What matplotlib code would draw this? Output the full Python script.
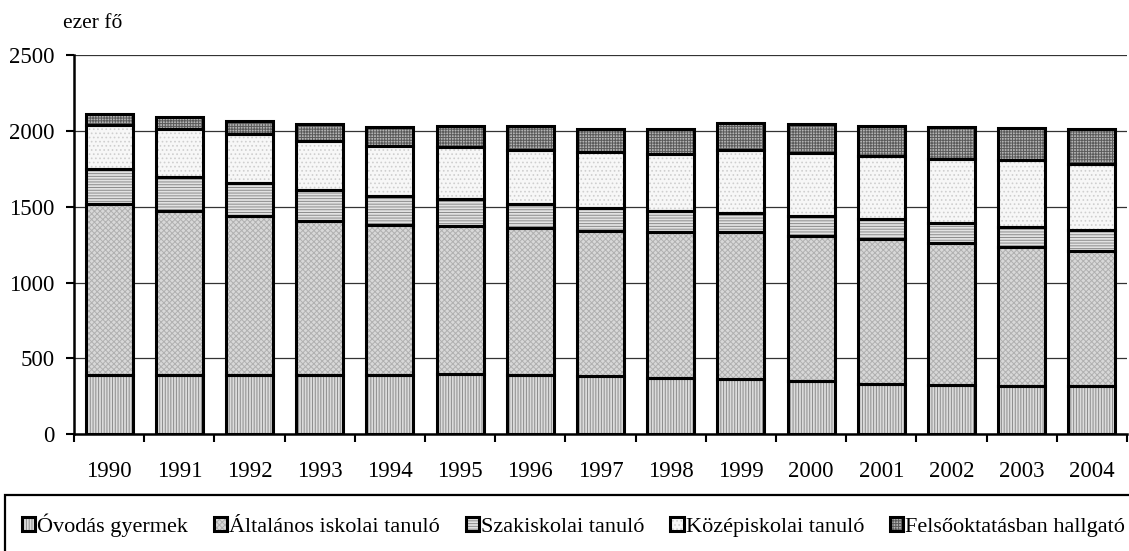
import numpy as np
import matplotlib.pyplot as plt
from matplotlib.patches import Rectangle
from matplotlib.legend_handler import HandlerTuple

plt.rcParams['font.family'] = ['Liberation Serif', 'DejaVu Serif']
plt.rcParams['font.size'] = 16.5
plt.rcParams['hatch.linewidth'] = 0.7

years = ['1990', '1991', '1992', '1993', '1994', '1995', '1996', '1997',
         '1998', '1999', '2000', '2001', '2002', '2003', '2004']

# thousand persons
ovoda = [390, 392, 394, 394, 390, 396, 390, 381, 370, 363, 348, 334, 326, 321, 321]
altalanos = [1130, 1082, 1042, 1013, 989, 976, 969, 960, 965, 972, 962, 950, 932, 915, 890]
szakiskola = [226, 224, 218, 203, 189, 176, 161, 150, 134, 125, 128, 137, 136, 132, 137]
kozepiskola = [291, 311, 324, 326, 335, 346, 357, 370, 377, 412, 414, 413, 423, 438, 436]
felsooktatas = [77, 83, 88, 108, 121, 139, 152, 154, 165, 183, 190, 201, 207, 214, 227]

series = [ovoda, altalanos, szakiskola, kozepiskola, felsooktatas]
labels = ['Óvodás gyermek', 'Általános iskolai tanuló', 'Szakiskolai tanuló',
          'Középiskolai tanuló', 'Felsőoktatásban hallgató']
# (fill, hatch colour, hatch)
styles = [('#dcdcdc', '#8c8c8c', '||||||'),
          ('#d8d8d8', '#b0b0b0', 'xxxxxx'),
          ('#e2e2e2', '#8c8c8c', '------'),
          ('#f7f7f7', '#cfcfcf', '....'),
          ('#b4b4b4', '#5a5a5a', '++++++')]

fig = plt.figure(figsize=(11.29, 5.51), dpi=100)
ax = fig.add_axes([74/1129, 0.2118, 1053/1129, 0.6884])

x = np.arange(len(years))
bottom = np.zeros(len(years))
handles = []
for vals, (fc, hc, h), lab in zip(series, styles, labels):
    vals = np.array(vals, dtype=float)
    b1 = ax.bar(x, vals, 0.67, bottom=bottom, color=fc, edgecolor=hc,
                hatch=h, linewidth=0, zorder=2)
    b2 = ax.bar(x, vals, 0.67, bottom=bottom, fill=False, edgecolor='black',
                linewidth=2.2, zorder=3)
    handles.append((b1[0], b2[0]))
    bottom += vals

ax.set_xlim(-0.5, len(years) - 0.5)
ax.set_ylim(0, 2500)
ax.set_yticks(np.arange(0, 2501, 500))
ax.set_xticks(x)
ax.set_xticklabels(years)
ax.set_xticks(np.arange(-0.5, len(years), 1), minor=True)
ax.tick_params(axis='x', which='major', length=0, pad=19)
ax.tick_params(axis='x', which='minor', length=6, width=1.5, direction='out')
ax.tick_params(axis='y', length=6, width=1.5, pad=8)
ax.yaxis.grid(True, color='#333333', linewidth=0.9, zorder=0)
ax.set_axisbelow(True)
for s in ['top', 'right']:
    ax.spines[s].set_visible(False)
ax.spines['left'].set_linewidth(1.8)
ax.spines['bottom'].set_linewidth(1.8)

fig.text(63/1129, 1 - 23/551, 'ezer fő', ha='left', va='center', fontsize=15.5)

# legend box running off the right and bottom edge
fig.patches.append(Rectangle((5/1129, -0.1), 1.1, 0.1 + (551-495)/551,
                             transform=fig.transFigure, fill=False,
                             edgecolor='black', linewidth=1.6))
fig.legend(handles, labels, handler_map={tuple: HandlerTuple(ndivide=1)},
           ncol=5, loc='center left', bbox_to_anchor=(13/1129, 26/551),
           frameon=False, handlelength=0.6, handleheight=0.6,
           handletextpad=0.1, columnspacing=1.15, borderaxespad=0,
           fontsize=16)

fig.savefig('out.png', dpi=100)
